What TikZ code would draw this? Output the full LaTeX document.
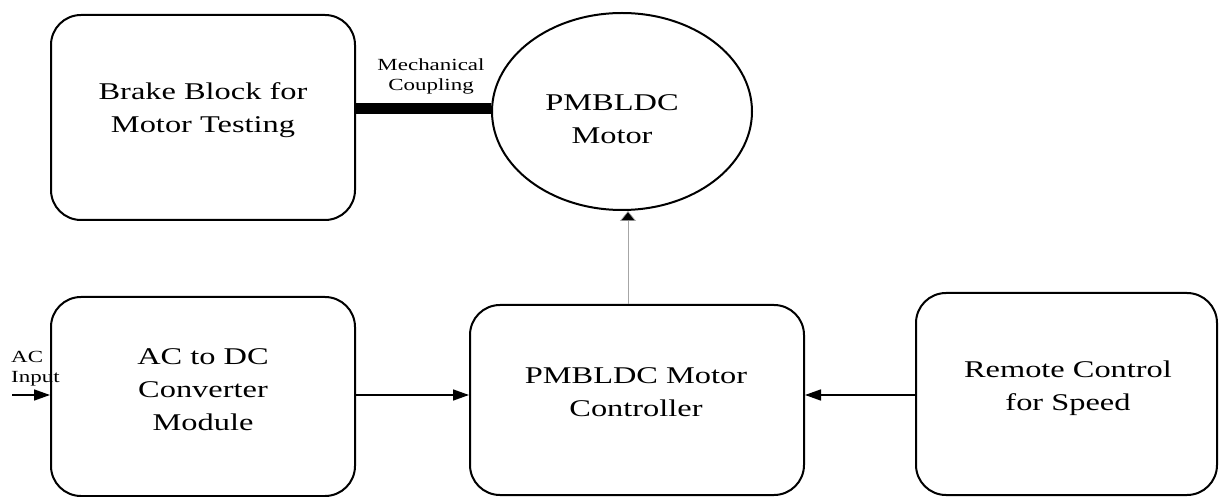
\documentclass[tikz,border=0pt]{standalone}
\usepackage{fontspec}
\setmainfont{Liberation Serif}[FakeStretch=1.35]
\usetikzlibrary{arrows.meta,shapes.geometric}
\begin{document}
\begin{tikzpicture}[x=1pt,y=-1pt,
  blk/.style={draw=black, line width=2pt, rounded corners=30pt, fill=none, inner sep=0pt},
  motorshape/.style={draw=black, line width=2pt, ellipse, inner sep=0pt},
  txt/.style={align=center, font=\fontsize{24}{33}\selectfont, inner sep=0pt},
  small/.style={align=left, font=\fontsize{17}{20}\selectfont, inner sep=0pt},
  arr/.style={line width=1.6pt, -{Triangle[length=16pt,width=11pt]}},
  thinarr/.style={draw=black!35, line width=0.7pt, -{Triangle[length=10pt,width=16pt,fill=black]}}]
\useasboundingbox (0,0) rectangle (1219,497);
\fill[white] (0,0) rectangle (1219,497);

% boxes
\node[blk, minimum width=304, minimum height=205] (brake) at (203,117.5) {};
\node[motorshape, minimum width=260, minimum height=197] (motor) at (622,111.5) {};
\node[blk, minimum width=304, minimum height=199] (acdc) at (203,396.5) {};
\node[blk, minimum width=334, minimum height=190] (ctrl) at (637,400) {};
\node[blk, minimum width=301, minimum height=202] (remote) at (1066.5,394) {};

% texts
\node[txt] (brakeT) at (203,110) {Brake Block for\\Motor Testing};
\node[txt] (motorT) at (612,119) {PMBLDC\\Motor};
\node[txt] (acdcT) at (203,390) {AC to DC\\Converter\\Module};
\node[txt] (ctrlT) at (636,392) {PMBLDC Motor\\Controller};
\node[txt] (remoteT) at (1068,388) {Remote Control\\for Speed};

% mechanical coupling
\draw[line width=11pt] (brake.east |- 0,108.5) -- (motor.west |- 0,108.5);
\node[small, align=center] (mechT) at (431,76) {Mechanical\\Coupling};

% arrows
\coordinate (yline) at (0,395);
\coordinate (vx) at (628,0);
\coordinate (acin) at (12,395);
\draw[arr] (acdc.east |- yline) -- (ctrl.west |- yline);
\draw[arr] (remote.west |- yline) -- (ctrl.east |- yline);
\draw[arr] (acin) -- (acdc.west |- acin);
\draw[thinarr] (ctrl.north -| vx) -- (motor.south -| vx);
\node[small, anchor=west] (acT) at (11,369) {AC\\Input};
\end{tikzpicture}
\end{document}
